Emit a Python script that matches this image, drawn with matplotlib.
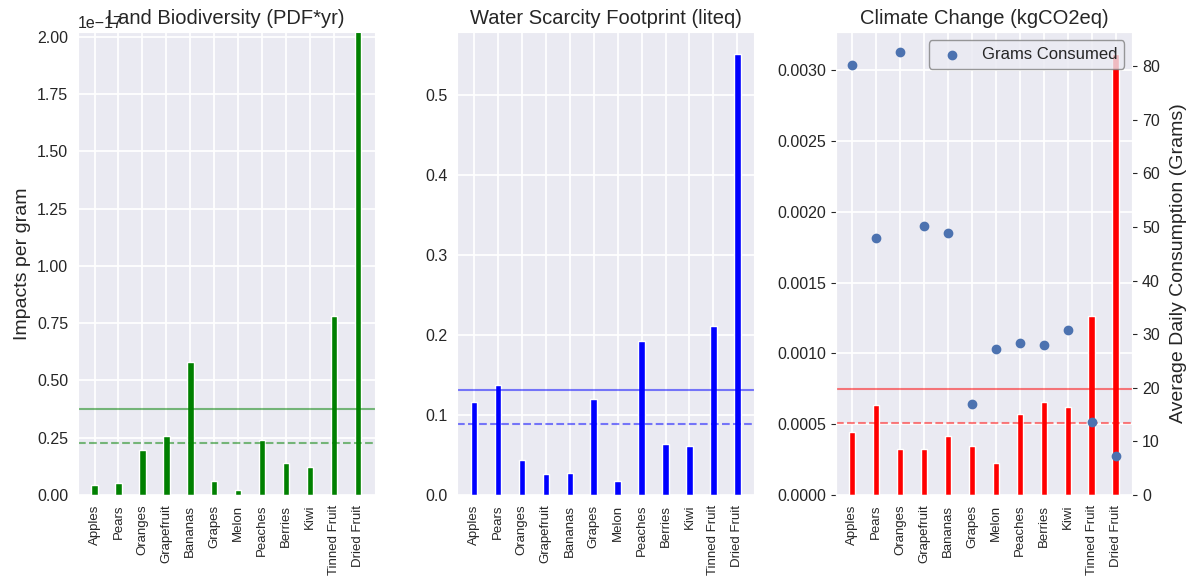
import numpy as np
import matplotlib
matplotlib.use("Agg")
import matplotlib.pyplot as plt
import seaborn as sns

# fruit categories and per-gram impacts
fruits = ["Apples", "Pears", "Oranges", "Grapefruit", "Bananas", "Grapes",
          "Melon", "Peaches", "Berries", "Kiwi", "Tinned Fruit", "Dried Fruit"]
land_biodiv = np.array([0.045, 0.054, 0.197, 0.259, 0.579, 0.061,
                        0.023, 0.240, 0.138, 0.124, 0.780, 2.05]) * 1e-17
water_scarcity = [0.1166, 0.1375, 0.0437, 0.026, 0.028, 0.120,
                  0.018, 0.193, 0.064, 0.061, 0.211, 0.551]
climate_change = [0.000448, 0.000635, 0.000325, 0.000325, 0.000415, 0.000344,
                  0.000226, 0.000573, 0.000653, 0.000618, 0.001267, 0.003113]
grams_consumed = [80.3, 48.0, 82.6, 50.2, 48.9, 17.0,
                  27.3, 28.3, 27.9, 30.7, 13.6, 7.2]

# reference lines (solid / dashed) per panel
land_lines = [0.3755e-17, 0.227e-17]
water_lines = [0.1316, 0.0888]
climate_lines = [0.000748, 0.000509]

sns.set_style("darkgrid")
plt.rcParams["font.family"] = ["Arial", "Liberation Sans", "DejaVu Sans"]
plt.rcParams["text.color"] = ".15"
plt.rcParams["axes.labelcolor"] = ".15"
plt.rcParams["xtick.color"] = ".15"
plt.rcParams["ytick.color"] = ".15"

fig = plt.figure(figsize=(11.97, 5.83), dpi=100)
bottom, height, width = 0.151, 0.794, 0.248
ax1 = fig.add_axes([0.065, bottom, width, height])
ax2 = fig.add_axes([0.382, bottom, width, height])
ax3 = fig.add_axes([0.698, bottom, width, height])

panels = [
    (ax1, land_biodiv, "green", land_lines, "Land Biodiversity (PDF*yr)"),
    (ax2, water_scarcity, "blue", water_lines, "Water Scarcity Footprint (liteq)"),
    (ax3, climate_change, "red", climate_lines, "Climate Change (kgCO2eq)"),
]
x = np.arange(len(fruits))
for ax, vals, col, lines, title in panels:
    ax.bar(x, vals, width=0.27, color=col)
    ax.axhline(lines[0], color=col, alpha=0.5, lw=1.5)
    ax.axhline(lines[1], color=col, alpha=0.5, lw=1.5, ls="--")
    ax.set_xticks(x)
    ax.set_xticklabels(fruits, rotation=90, fontsize=9.5)
    ax.tick_params(axis="y", labelsize=11.5)
    ax.yaxis.get_offset_text().set_fontsize(11.5)
    # fixed y keeps the title from being pushed up by the 1e-17 offset text
    ax.set_title(title, fontsize=14.5, y=1.0)
    ax.grid(True, color="white", lw=1.3)

ax1.set_ylim(0, 2.02e-17)
ax1.set_ylabel("Impacts per gram", fontsize=14)

ax3b = ax3.twinx()
ax3b.scatter(x, grams_consumed, color="#4C72B0", s=36, label="Grams Consumed", zorder=3)
ax3b.grid(False)
ax3b.set_ylim(bottom=0)
ax3b.tick_params(axis="y", labelsize=11.5)
ax3b.set_ylabel("Average Daily Consumption (Grams)", fontsize=14, labelpad=7)
leg = ax3b.legend(loc="upper right", fontsize=12, frameon=True, framealpha=0.8,
                  facecolor="#EAEAF2", edgecolor="0.5")

fig.savefig("out.png", dpi=100)
